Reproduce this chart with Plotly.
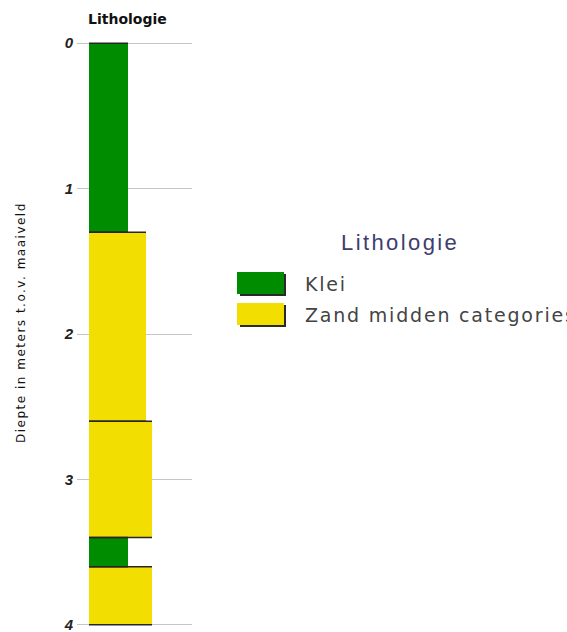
import plotly.graph_objects as go

# ---- data ----
layer_top = [0.0, 1.3, 2.6, 3.4, 3.6]
layer_bottom = [1.3, 2.6, 3.4, 3.6, 4.0]
layer_lith = ["Klei", "Zand midden categories", "Zand midden categories", "Klei", "Zand midden categories"]
layer_width = [3.9, 5.7, 6.3, 3.9, 6.3]
lith_colors = {"Klei": "#008c00", "Zand midden categories": "#f2de00"}
y_ticks = [0, 1, 2, 3, 4]

W, H = 567, 632
PLOT_L, PLOT_R, PLOT_T, PLOT_B = 77, 192, 43, 625   # pixels
Y0, Y1 = 0.0, 4.0
EXT = 0.015                                          # small range padding (m)
ppm = (PLOT_B - PLOT_T) / (Y1 - Y0)
L = PLOT_L
R = W - PLOT_R
T = PLOT_T - EXT * ppm
B = H - PLOT_B - EXT * ppm
PW, PH = W - L - R, H - T - B


def px(x):
    return (x - L) / PW


def py(y):
    return (H - B - y) / PH


fig = go.Figure()

mids = [(a + b) / 2 for a, b in zip(layer_top, layer_bottom)]
thick = [b - a for a, b in zip(layer_top, layer_bottom)]
for lith in dict.fromkeys(layer_lith):
    idx = [i for i, l in enumerate(layer_lith) if l == lith]
    fig.add_trace(go.Bar(
        orientation="h",
        x=[layer_width[i] for i in idx],
        y=[mids[i] for i in idx],
        width=[thick[i] for i in idx],
        base=0,
        marker=dict(color=lith_colors[lith], line=dict(width=0)),
        name=lith,
        showlegend=False,
    ))

# layer boundary lines
bx, by = [], []
for t, b, w in zip(layer_top, layer_bottom, layer_width):
    bx += [0, w, None, 0, w, None]
    by += [t, t, None, b, b, None]
fig.add_trace(go.Scatter(x=bx, y=by, mode="lines",
                         line=dict(color="#262626", width=1.5),
                         showlegend=False, hoverinfo="skip"))

shapes = []
annotations = []

# manual legend
annotations.append(dict(
    x=px(400), y=py(242), xref="paper", yref="paper", showarrow=False,
    text='<span style="letter-spacing:2.4px">Lithologie</span>',
    font=dict(family="Liberation Sans", size=22, color="#3d3d70"),
    xanchor="center", yanchor="middle"))
sw_y = [272, 303]
for k, lith in enumerate(dict.fromkeys(layer_lith)):
    y0 = sw_y[k]
    shapes.append(dict(type="rect", xref="paper", yref="paper",
                       x0=px(240), x1=px(286), y0=py(y0 + 2), y1=py(y0 + 24),
                       fillcolor="#2a2a2a", line=dict(width=0)))
    shapes.append(dict(type="rect", xref="paper", yref="paper",
                       x0=px(237), x1=px(284), y0=py(y0), y1=py(y0 + 22),
                       fillcolor=lith_colors[lith], line=dict(width=0)))
    annotations.append(dict(
        x=px(303), y=py(y0 + 12), xref="paper", yref="paper", showarrow=False,
        text=f'<span style="letter-spacing:1.8px">{lith}</span>',
        font=dict(family="DejaVu Sans", size=19, color="#444444"),
        xanchor="left", yanchor="middle"))

# chart title
annotations.append(dict(
    x=px(127), y=py(19), xref="paper", yref="paper", showarrow=False,
    text="<b>Lithologie</b>",
    font=dict(family="DejaVu Sans", size=14, color="#111111"),
    xanchor="center", yanchor="middle"))

# y-axis title
annotations.append(dict(
    x=px(21), y=py(323), xref="paper", yref="paper", showarrow=False,
    text='<span style="letter-spacing:1.5px">Diepte in meters t.o.v. maaiveld</span>',
    textangle=-90,
    font=dict(family="DejaVu Sans", size=12, color="#111111"),
    xanchor="center", yanchor="middle"))

fig.update_layout(
    width=W, height=H,
    margin=dict(l=L, r=R, t=T, b=B, pad=0, autoexpand=False),
    paper_bgcolor="white", plot_bgcolor="white",
    bargap=0, barmode="overlay",
    showlegend=False,
    shapes=shapes, annotations=annotations,
    xaxis=dict(range=[-1.2, 10.3], visible=False, fixedrange=True,
               automargin=False),
    yaxis=dict(range=[Y1 + EXT, Y0 - EXT], tickvals=y_ticks,
               ticktext=[str(v) for v in y_ticks],
               showgrid=True, gridcolor="#c4c4c4", gridwidth=1,
               zeroline=False, showline=False, ticks="",
               automargin=False,
               ticklabelstandoff=3, ticklabeloverflow="allow",
               tickfont=dict(family="Liberation Sans", size=15, color="#222222",
                             weight="bold", style="italic")),
)

fig.write_html(
    "out.html",
    config={"displayModeBar": False},
    post_script="document.body.style.margin='0px';document.body.style.overflow='hidden';",
)
